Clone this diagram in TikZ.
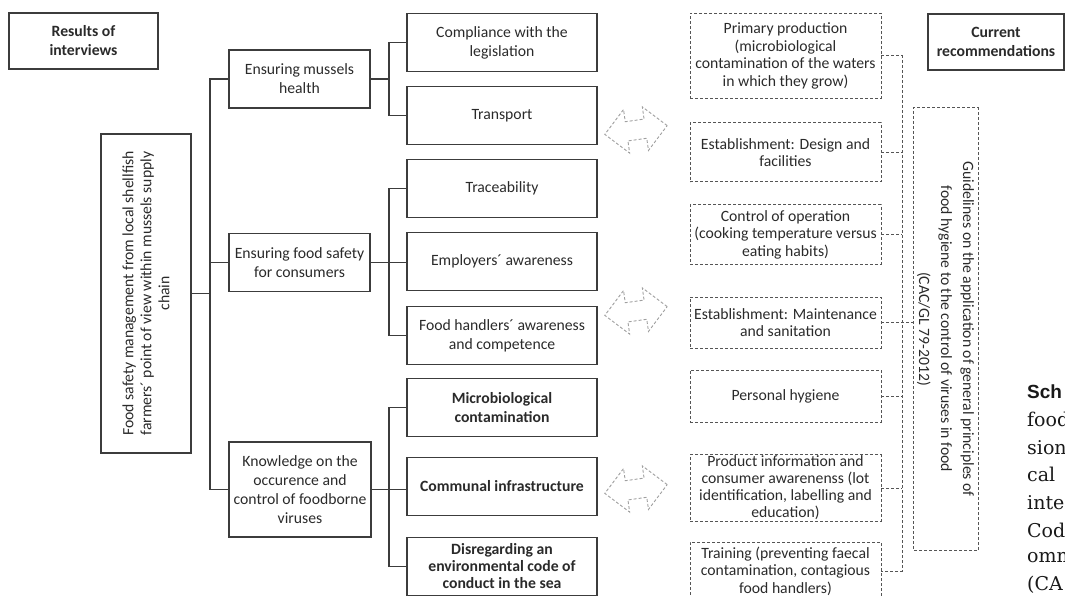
\documentclass[tikz,border=0pt]{standalone}
\usepackage{fontspec}
\setmainfont{Carlito}
\newfontfamily\capserif{DejaVu Serif}
\newfontfamily\capsans{Liberation Sans}
\usetikzlibrary{positioning,shapes.arrows}

\definecolor{boxline}{HTML}{3C3C3C}
\definecolor{dashline}{HTML}{555555}
\definecolor{txt}{HTML}{2A2A2A}

\begin{document}
\begin{tikzpicture}[
  x=1pt,y=1pt,
  font=\fontsize{15.7}{19}\selectfont, text=txt,
  box/.style={draw=boxline,line width=1.8pt,outer sep=0pt,align=center,minimum width=190pt,minimum height=58pt,inner sep=2pt},
  head/.style={box,font=\fontsize{15.7}{19}\selectfont\bfseries},
  rec/.style={draw=dashline,line width=1pt,outer sep=0pt,dash pattern=on 3pt off 2pt,align=center,minimum width=191pt,inner sep=1pt,font=\fontsize{15.7}{17.5}\selectfont},
  link/.style={draw=boxline,line width=1.5pt},
  dlink/.style={draw=dashline,line width=1pt,dash pattern=on 3pt off 2pt},
  dblarr/.style={double arrow,draw=gray!75,dash pattern=on 3pt off 2pt,line width=0.9pt,minimum height=63pt,minimum width=44pt,double arrow head extend=12pt,inner sep=9pt,rotate=8},
  captxt/.style={anchor=west,inner sep=0pt,text=black!90,font=\capserif\fontsize{19}{22}\selectfont}
]
\useasboundingbox (0,0) rectangle (1065,-596);

% headings
\node[head,minimum width=149pt,minimum height=56pt] (res) at (83.5,-41) {Results of\\interviews};
\node[head,minimum width=136pt,minimum height=56pt] (cur) at (996,-42) {Current\\recommendations};

% results of interviews
\node[box,rotate=90,minimum width=319pt,minimum height=90pt,font=\fontsize{15.7}{18}\selectfont] (main) at (146,-293.5)
  {Food safety management from local shellfish\\farmers´ point of view within mussels supply\\chain};
\node[box,minimum width=141pt] (musl) at (299.5,-79) {Ensuring mussels\\health};
\node[box,minimum width=141pt] (fsaf) at (299.5,-262.5) {Ensuring food safety\\for consumers};
\node[box,minimum width=142pt,minimum height=95pt] (know) at (300,-489.5) {Knowledge on the\\occurence and\\control of foodborne\\viruses};

\node[box] (comp) at (502,-42.5) {Compliance with the\\legislation};
\node[box,below=15pt of comp] (trans) {Transport};
\node[box,below=15pt of trans] (trace) {Traceability};
\node[box,below=15pt of trace] (empl) {Employers´ awareness};
\node[box,below=16pt of empl] (handl) {Food handlers´ awareness\\and competence};
\node[head,below=14pt of handl] (micro) {Microbiological\\contamination};
\node[head,below=21pt of micro] (comm) {Communal infrastructure};
\node[head,below=22pt of comm,font=\fontsize{15.7}{17}\selectfont\bfseries] (disr) {Disregarding an\\environmental code of\\conduct in the sea};

% current recommendations
\node[rec,minimum height=85pt] (prim) at (785.5,-56) {Primary production\\(microbiological\\contamination of the waters\\in which they grow)};
\node[rec,minimum height=59pt] (desg) at (785.5,-152.5) {Establishment: Design and\\facilities};
\node[rec,minimum height=59pt] (ctrl) at (785.5,-234.5) {Control of operation\\(cooking temperature versus\\eating habits)};
\node[rec,minimum height=51pt] (mant) at (785.5,-322.5) {Establishment: Maintenance\\and sanitation};
\node[rec,minimum height=52pt] (pers) at (785.5,-396) {Personal hygiene};
\node[rec,minimum height=62pt,font=\fontsize{15.7}{17}\selectfont] (prod) at (785.5,-488) {Product information and\\consumer awarenenss (lot\\identification, labelling and\\education)};
\node[rec,minimum height=58pt] (trai) at (785.5,-571) {Training (preventing faecal\\contamination, contagious\\food handlers)};
\node[rec,rotate=-90,minimum width=442pt,minimum height=65pt,font=\fontsize{15.7}{22}\selectfont] (guide) at (945.5,-329)
  {Guidelines on the application of general principles of\\food hygiene to the control of viruses in food\\(CAC/GL 79-2012)};

% tree lines
\draw[link] (main.south) -- ++(19,0);
\draw[link] (musl.west) -- ++(-19,0) |- (know.west);
\draw[link] (fsaf.west) -- ++(-19,0);
\draw[link] (musl.east) -- ++(19,0);
\draw[link] (fsaf.east) -- (fsaf.east -| empl.west);
\draw[link] (know.east) -- (know.east -| comm.west);
\foreach \a/\b in {comp/trans,trace/handl,micro/disr}
  \draw[link] (\a.west) -- ++(-18,0) |- (\b.west);

\draw[dlink] (prim.east) -- ++(21,0) |- (trai.east);
\foreach \n in {desg,ctrl,pers,prod}
  \draw[dlink] (\n.east) -- ++(21,0);
\draw[dlink] (mant.east) -- (mant.east -| guide.south);

% links between both sides
\node[dblarr] (ar1) at (636,-130) {};
\node[dblarr] (ar2) at (636,-311) {};
\node[dblarr] (ar3) at (636,-489) {};

% caption cut at the page edge
\node[captxt,font=\capsans\bfseries\fontsize{19}{22}\selectfont] (cap0) at (1027,-392) {Sch};
\foreach \t [count=\i] in {food,sion,cal,inte,Cod,omm,{(CA}}
  \node[captxt] (cap\i) at (1027,{-392-27.6*\i}) {\t};
\end{tikzpicture}
\end{document}
